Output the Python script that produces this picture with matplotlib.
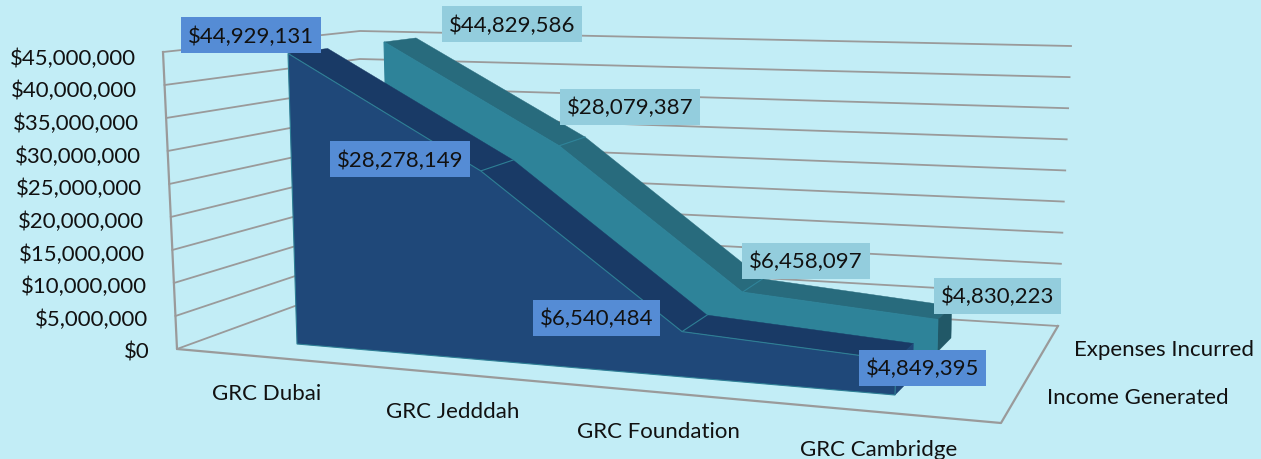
import numpy as np
import matplotlib
matplotlib.use("Agg")
import matplotlib.pyplot as plt
from matplotlib.patches import Polygon, Rectangle

categories = ["GRC Dubai", "GRC Jedddah", "GRC Foundation", "GRC Cambridge"]
series_names = ["Income Generated", "Expenses Incurred"]
income = [44929131, 28278149, 6540484, 4849395]
expenses = [44829586, 28079387, 6458097, 4830223]
y_ticks = [0, 5000000, 10000000, 15000000, 20000000, 25000000, 30000000, 35000000, 40000000, 45000000]
y_max = 45000000

W, H = 1261, 459
BG = "#C2EDF6"
GRID = "#9A9A9A"
TEXT = "#111111"
FS = 16
plt.rcParams["font.family"] = ["Lato", "DejaVu Sans"]

fig = plt.figure(figsize=(W / 100, H / 100), dpi=100, facecolor=BG)
ax = fig.add_axes([0, 0, 1, 1])
ax.set_xlim(0, W)
ax.set_ylim(H, 0)
ax.axis("off")

# Camera: corners of the wall box, and of the box that holds the data bands.
# Order: front-left, front-right, back-right, back-left.
wall_floor = np.array([[177, 349], [1001, 423], [1058, 326], [358, 283]], float)
wall_roof = np.array([[163, 52], [1016, 93], [1071, 46], [360, 31]], float)
data_floor = np.array([[297, 344], [895, 395], [951, 338], [422, 285]], float)
data_roof = np.array([[288, 53], [905, 73], [958, 40], [416, 37]], float)
PERSPECTIVE = 1.11


def bilerp(c, u, v):
    return (1 - v) * ((1 - u) * c[0] + u * c[1]) + v * ((1 - u) * c[3] + u * c[2])


def wall(u, v, value):
    t = value / y_max
    return (1 - t) * bilerp(wall_floor, u, v) + t * bilerp(wall_roof, u, v)


def data(u, v, value):
    t = value / y_max
    return (1 - t) * bilerp(data_floor, u, v) + t * bilerp(data_roof, u, v)


def u_of(i):
    s = i / (len(categories) - 1)
    return s / (s + PERSPECTIVE * (1 - s))


# Depth band of each series inside the data box
depth = {0: (0.0, 0.31), 1: (0.75, 1.0)}

# Walls
for tick in y_ticks:
    pts = np.array([wall(0, 0, tick), wall(0, 1, tick), wall(1, 1, tick)])
    ax.plot(pts[:, 0], pts[:, 1], color=GRID, lw=1.3, zorder=1)
pts = np.array([wall(0, 0, y_max), wall(0, 0, 0), wall(1, 0, 0), wall(1, 1, 0)])
ax.plot(pts[:, 0], pts[:, 1], color=GRID, lw=1.6, zorder=1)


def draw_series(values, vf, vb, front, top, side, edge, z):
    n = len(values)
    for i in range(n - 1):
        q = [data(u_of(i), vf, values[i]), data(u_of(i + 1), vf, values[i + 1]),
             data(u_of(i + 1), vb, values[i + 1]), data(u_of(i), vb, values[i])]
        ax.add_patch(Polygon(q, closed=True, fc=top, ec=top, lw=0.3, zorder=z))
        if i < n - 2:
            ax.plot([q[1][0], q[2][0]], [q[1][1], q[2][1]], color=edge, lw=0.8, zorder=z + 0.1)
    q = [data(u_of(n - 1), vf, 0), data(u_of(n - 1), vb, 0),
         data(u_of(n - 1), vb, values[-1]), data(u_of(n - 1), vf, values[-1])]
    ax.add_patch(Polygon(q, closed=True, fc=side, ec=side, lw=0.3, zorder=z))
    f = [data(u_of(i), vf, values[i]) for i in range(n)]
    base = [data(u_of(n - 1), vf, 0), data(u_of(0), vf, 0)]
    ax.add_patch(Polygon(f + base, closed=True, fc=front, ec=edge, lw=0.8, zorder=z + 0.2))


draw_series(expenses, *depth[1], "#2E8399", "#286B7D", "#215867", "#2E8399", 3)
draw_series(income, *depth[0], "#1F4879", "#193A66", "#1F4879", "#2E7F95", 4)

# Value labels, placed relative to the top of each point
income_offsets = [(-37, -18), (-81, -11.5), (-85.5, -13.5), (26.5, 7.5)]
expense_offsets = [(128, -17.5), (71, -38.5), (63.5, -31.5), (59.5, -23.5)]
renderer = fig.canvas.get_renderer()
for vals, idx, offs, color in [(income, 0, income_offsets, "#558CD5"),
                               (expenses, 1, expense_offsets, "#93CDDD")]:
    vf = depth[idx][0]
    for i, v in enumerate(vals):
        p = data(u_of(i), vf, v)
        cx, cy = p[0] + offs[i][0], p[1] + offs[i][1]
        txt = ax.text(cx, cy + 1, f"${v:,}", ha="center", va="center",
                      fontsize=FS, color=TEXT, zorder=10)
        w = txt.get_window_extent(renderer).width + 14
        ax.add_patch(Rectangle((cx - w / 2, cy - 18), w, 36, fc=color, ec="none", zorder=9))

# Value axis labels
for tick in y_ticks:
    p = wall(0, 0, tick)
    ax.text(p[0] - 27, p[1] + 3.5 + 3 * tick / y_max, f"${tick:,}", ha="right", va="center",
            fontsize=FS, color=TEXT)

# Category labels
cat_pos = [(267, 393.5), (453, 412.5), (658, 431.5), (879, 450.5)]
for name, (x, y) in zip(categories, cat_pos):
    ax.text(x, y, name, ha="center", va="center", fontsize=FS, color=TEXT)

# Series labels
ax.text(1164, 349.5, series_names[1], ha="center", va="center", fontsize=FS, color=TEXT)
ax.text(1138, 397.5, series_names[0], ha="center", va="center", fontsize=FS, color=TEXT)

fig.savefig("out.png", dpi=100, facecolor=BG)
